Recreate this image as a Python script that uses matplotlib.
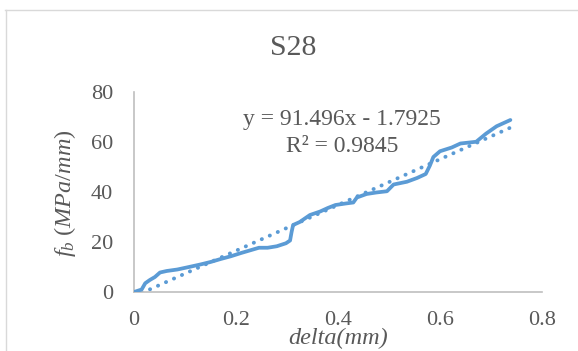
import matplotlib
matplotlib.use("Agg")
import matplotlib.pyplot as plt
import numpy as np

# ---- data ----
delta = [0.000, 0.015, 0.022, 0.031, 0.041, 0.051, 0.064, 0.085, 0.110, 0.130,
         0.150, 0.170, 0.190, 0.210, 0.230, 0.245, 0.262, 0.280, 0.298, 0.306,
         0.309, 0.312, 0.325, 0.345, 0.365, 0.380, 0.395, 0.415, 0.430, 0.437,
         0.456, 0.475, 0.496, 0.509, 0.535, 0.555, 0.572, 0.580, 0.587, 0.600,
         0.623, 0.640, 0.671, 0.690, 0.711, 0.738]
fb = [0.0, 1.0, 3.5, 4.8, 6.0, 7.8, 8.4, 9.0, 10.1, 11.0,
      12.0, 13.2, 14.3, 15.6, 16.8, 17.7, 17.7, 18.3, 19.5, 20.6,
      24.0, 26.8, 28.0, 30.8, 32.2, 33.6, 34.8, 35.4, 35.8, 37.8,
      39.2, 39.8, 40.3, 43.0, 44.1, 45.6, 47.2, 50.5, 54.0, 56.3,
      57.8, 59.4, 60.1, 63.3, 66.3, 68.8]
slope = 91.496
intercept = -1.7925
r2 = 0.9845
xticks = [0, 0.2, 0.4, 0.6, 0.8]
xtick_labels = ["0", "0.2", "0.4", "0.6", "0.8"]
yticks = [0, 20, 40, 60, 80]
ytick_labels = ["0", "20", "40", "60", "80"]
title = "S28"

# ---- style ----
W, H = 578, 351
TXT = "#595959"
BLUE = "#5b9bd5"
plt.rcParams["font.family"] = ["Liberation Serif", "DejaVu Serif"]
plt.rcParams["mathtext.fontset"] = "custom"
plt.rcParams["mathtext.rm"] = "Liberation Serif"
plt.rcParams["mathtext.it"] = "Liberation Serif:italic"

fig = plt.figure(figsize=(W / 100, H / 100), dpi=100)
fig.patch.set_facecolor("white")

# chart border (top and left visible)
fig.add_artist(plt.Line2D([5 / W, 1.0], [1 - 10 / H, 1 - 10 / H], color="#d9d9d9", lw=1.0))
fig.add_artist(plt.Line2D([5.5 / W, 5.5 / W], [0, 1 - 10 / H], color="#d9d9d9", lw=1.0))

ax = fig.add_axes([134 / W, 1 - 292 / H, 408 / W, 200 / H])
ax.plot(delta, fb, color=BLUE, lw=2.7, solid_capstyle="round", solid_joinstyle="round", zorder=3)

tx = np.array([0.0, max(delta)])
ax.plot(tx, slope * tx + intercept, color=BLUE, lw=2.8,
        linestyle=(0, (0.05, 2.2)), dash_capstyle="round", zorder=2)

ax.set_xlim(0, 0.8)
ax.set_ylim(0, 80)
ax.set_xticks(xticks)
ax.set_xticklabels(xtick_labels)
ax.set_yticks(yticks)
ax.set_yticklabels(ytick_labels)
ax.tick_params(length=0, labelsize=16, labelcolor=TXT)
ax.tick_params(axis="y", pad=15)
ax.tick_params(axis="x", pad=14)
for s in ["top", "right"]:
    ax.spines[s].set_visible(False)
for s in ["left", "bottom"]:
    ax.spines[s].set_color("#bfbfbf")
    ax.spines[s].set_linewidth(1.2)

fig.text(293 / W, 1 - 48 / H, title, ha="center", va="center", fontsize=21.5, color=TXT)
fig.text(342 / W, 1 - 119 / H, f"y = {slope}x - {abs(intercept)}", ha="center", va="center",
         fontsize=17, color=TXT)
fig.text(342 / W, 1 - 146 / H, f"R² = {r2}", ha="center", va="center", fontsize=17, color=TXT)

fig.text(338 / W, 1 - 338 / H, "delta(mm)", ha="center", va="center", fontsize=17.5,
         style="italic", color=TXT)
fig.text(65 / W, 1 - 193 / H, r"$f_b\ (MPa/mm)$", ha="center", va="center", fontsize=17.5,
         rotation=90, color=TXT)

fig.savefig("out.png", dpi=100, facecolor="white")
